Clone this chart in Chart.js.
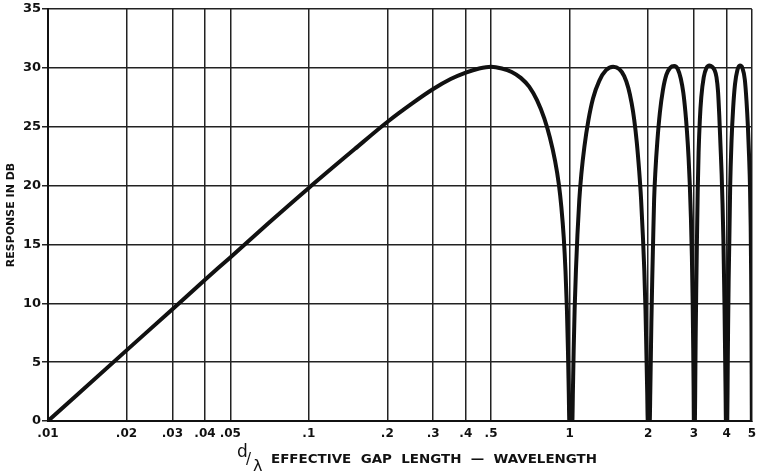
<!DOCTYPE html>
<html>
<head>
<meta charset="utf-8">
<script src="https://cdn.jsdelivr.net/npm/chart.js@4.4.1/dist/chart.umd.min.js"></script>
<style>
  html, body { margin: 0; padding: 0; background: #fff; }
  #wrap { width: 762px; height: 474px; }
</style>
</head>
<body>
<div id="wrap"><canvas id="gapChart" width="762" height="474"></canvas></div>
<script>
// d/lambda values, one line per lobe
const gapRatio = [
  0.01, 0.02, 0.03, 0.04, 0.05, 0.07, 0.1, 0.15, 0.2, 0.25, 0.3, 0.35, 0.4, 0.45, 0.5, 0.55, 0.6, 0.65, 0.7, 0.75, 0.8, 0.84, 0.88, 0.91, 0.93, 0.95, 0.965, 0.977, 0.986, 0.993, 0.998,
  1.025, 1.03, 1.037, 1.046, 1.058, 1.072, 1.09, 1.11, 1.14, 1.18, 1.23, 1.3, 1.38, 1.47, 1.55, 1.62, 1.68, 1.73, 1.77, 1.81, 1.85, 1.88, 1.91, 1.935, 1.955, 1.97, 1.985, 1.995,
  2.03, 2.04, 2.05, 2.06, 2.075, 2.09, 2.11, 2.135, 2.17, 2.22, 2.28, 2.35, 2.43, 2.52, 2.6, 2.67, 2.73, 2.78, 2.82, 2.86, 2.89, 2.92, 2.945, 2.965, 2.98, 2.99, 2.997,
  3.025, 3.035, 3.045, 3.06, 3.08, 3.1, 3.125, 3.16, 3.2, 3.27, 3.35, 3.44, 3.52, 3.6, 3.66, 3.71, 3.75, 3.79, 3.83, 3.86, 3.89, 3.91, 3.93, 3.95, 3.965, 3.978,
  4.025, 4.04, 4.055, 4.075, 4.1, 4.13, 4.18, 4.24, 4.31, 4.4, 4.5, 4.6, 4.7, 4.77, 4.83, 4.88, 4.92, 4.95, 4.97, 4.985, 4.993, 5.0
];
// response in dB at those points
const responseDb = [
  0, 6.0, 9.5, 12.0, 13.9, 16.8, 19.8, 23.1, 25.4, 27.0, 28.2, 29.05, 29.6, 29.95, 30.1, 29.95, 29.65, 29.15, 28.4, 27.25, 25.7, 24.1, 22.1, 20.1, 18.2, 15.6, 12.7, 9.5, 6.0, 2.5, 0,
  0, 2.5, 6.0, 9.5, 12.8, 15.8, 18.8, 21.0, 23.3, 25.5, 27.4, 28.9, 29.8, 30.1, 29.9, 29.3, 28.3, 27.0, 25.6, 23.7, 21.2, 18.9, 15.8, 12.8, 9.5, 6.0, 2.5, 0,
  0, 2.5, 5.5, 8.5, 12.0, 15.0, 18.8, 21.3, 23.7, 26.2, 28.1, 29.4, 30.0, 30.15, 29.9, 29.1, 27.9, 26.3, 24.6, 22.4, 20.2, 17.3, 14.0, 10.2, 6.2, 2.8, 0,
  0, 3.5, 7.0, 11.0, 15.4, 19.4, 22.8, 25.6, 27.5, 29.2, 30.0, 30.2, 30.1, 29.8, 29.2, 28.0, 26.0, 23.5, 21.0, 18.5, 15.4, 12.5, 9.5, 5.5, 2.5, 0,
  0, 4.0, 8.0, 12.0, 15.4, 19.9, 23.8, 26.6, 28.6, 29.8, 30.2, 30.0, 29.0, 27.2, 25.0, 22.5, 19.9, 16.5, 12.5, 8.0, 4.0, 0
];
const xTickValues = [0.01, 0.02, 0.03, 0.04, 0.05, 0.1, 0.2, 0.3, 0.4, 0.5, 1, 2, 3, 4, 5];
const xTickLabels = ['.01', '.02', '.03', '.04', '.05', '.1', '.2', '.3', '.4', '.5', '1', '2', '3', '4', '5'];

const points = gapRatio.map(function (x, i) { return { x: x, y: responseDb[i] }; });
const labelFont = '"DejaVu Sans", "Liberation Sans", sans-serif';

// x axis title with the d/lambda fraction
const xTitlePlugin = {
  id: 'xTitle',
  afterDraw: function (chart) {
    const ctx = chart.ctx;
    ctx.save();
    ctx.fillStyle = '#111';
    ctx.textBaseline = 'middle';
    ctx.textAlign = 'left';
    ctx.font = '17px ' + labelFont;
    ctx.fillText('d', 237, 453);
    ctx.font = '15px ' + labelFont;
    ctx.fillText('/', 246, 460);
    ctx.font = '16px ' + labelFont;
    ctx.fillText('λ', 253, 467);
    ctx.font = 'bold 13px ' + labelFont;
    const txt = 'EFFECTIVE  GAP  LENGTH  —  WAVELENGTH';
    const w = ctx.measureText(txt).width;
    ctx.translate(271, 460);
    ctx.scale(326 / w, 1);
    ctx.fillText(txt, 0, 0);
    ctx.restore();
  }
};

new Chart(document.getElementById('gapChart'), {
  type: 'line',
  data: {
    datasets: [{
      data: points,
      borderColor: '#111',
      borderWidth: 4,
      pointRadius: 0,
      fill: false,
      cubicInterpolationMode: 'monotone'
    }]
  },
  options: {
    responsive: false,
    animation: false,
    layout: { padding: { top: 9, right: 9, left: 0, bottom: 0 } },
    plugins: { legend: { display: false }, tooltip: { enabled: false } },
    scales: {
      x: {
        type: 'logarithmic',
        min: 0.01,
        max: 5,
        afterBuildTicks: function (scale) {
          scale.ticks = xTickValues.map(function (v) { return { value: v }; });
        },
        afterFit: function (scale) { scale.height = 53; },
        ticks: {
          autoSkip: false,
          maxRotation: 0,
          padding: 6,
          color: '#111',
          font: { family: labelFont, size: 12, weight: 'bold' },
          callback: function (value) {
            const i = xTickValues.indexOf(value);
            return i >= 0 ? xTickLabels[i] : '';
          }
        },
        grid: { color: '#222', lineWidth: 1.5, tickLength: 0 },
        border: { color: '#111', width: 2 }
      },
      y: {
        min: 0,
        max: 35,
        afterFit: function (scale) { scale.width = 48; },
        ticks: {
          stepSize: 5,
          padding: 1,
          color: '#111',
          font: { family: labelFont, size: 13, weight: 'bold' }
        },
        grid: { color: '#222', lineWidth: 1.5, tickLength: 6 },
        border: { color: '#111', width: 2 },
        title: {
          display: true,
          text: 'RESPONSE IN DB',
          color: '#111',
          font: { family: labelFont, size: 11, weight: 'bold' },
          padding: { top: 5, bottom: 0 }
        }
      }
    }
  },
  plugins: [xTitlePlugin]
});
</script>
</body>
</html>
